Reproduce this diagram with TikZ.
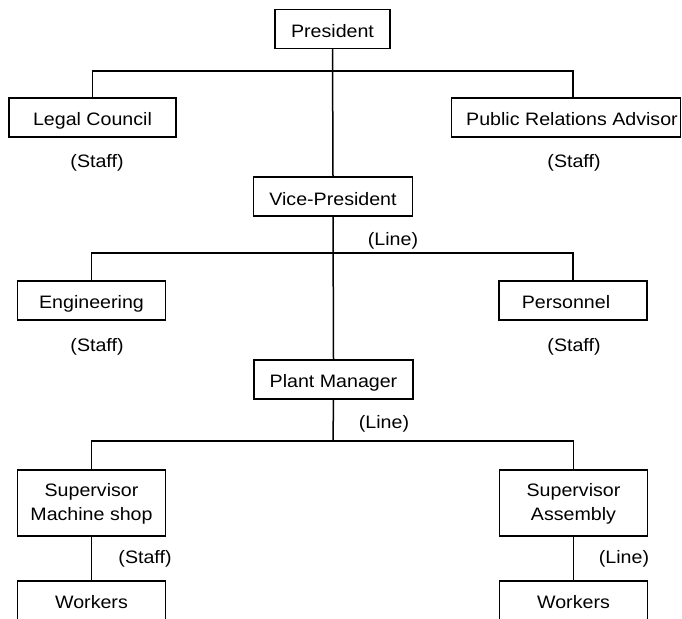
\documentclass[tikz,border=0pt]{standalone}
\usepackage{fontspec}
\setmainfont{Liberation Sans}[FakeStretch=1.09]
\begin{document}
\begin{tikzpicture}[x=1pt,y=-1pt,
  box/.style={draw, line width=1.5pt, inner sep=0pt, minimum height=39pt,
    font=\fontsize{18}{23.3}\selectfont, text height=17pt, text depth=0.4pt},
  frame/.style={draw, line width=1.5pt, inner sep=0pt, minimum width=148pt},
  lbl/.style={inner sep=0pt, font=\fontsize{18}{23.3}\selectfont},
  conn/.style={line width=1.5pt}]
\useasboundingbox (0,0) rectangle (682,618);
\clip (0,0) rectangle (682,618);
% nodes
\node[box, minimum width=115pt] (pres) at (332.5,29) {President};
\node[box, minimum width=167pt] (legal) at (92.5,117.5) {Legal Council};
\node[box, minimum width=229pt] (pra) at (566,117.5) {\hspace*{12pt}Public Relations Advisor};
\node[lbl] (s1) at (97,163) {(Staff)};
\node[lbl] (s2) at (574,163) {(Staff)};
\node[box, minimum width=159pt] (vp) at (333,196.7) {Vice-President};
\node[lbl] (l1) at (393,241) {(Line)};
\node[box, minimum width=148pt] (eng) at (91.5,300.5) {Engineering};
\node[box, minimum width=148pt] (pers) at (573,300.5) {Personnel\hspace*{14pt}};
\node[lbl] (s3) at (97,347) {(Staff)};
\node[lbl] (s4) at (574,347) {(Staff)};
\node[box, minimum width=159pt] (pm) at (333.5,379.5) {Plant Manager};
\node[lbl] (l2) at (384,424) {(Line)};
\node[frame, minimum height=66pt] (sup1) at (91.5,503) {};
\node[lbl, align=center, anchor=north] (sup1t) at (91.5,483.6) {Supervisor\\Machine shop};
\node[frame, minimum height=66pt] (sup2) at (573.5,503) {};
\node[lbl, align=center, anchor=north] (sup2t) at (573.5,483.6) {Supervisor\\Assembly};
\node[lbl] (s5) at (145,559) {(Staff)};
\node[lbl] (l3) at (624,559) {(Line)};
\node[frame, minimum height=44pt] (w1) at (91.5,603) {};
\node[lbl, anchor=base] (w1t) at (91.5,608) {Workers};
\node[frame, minimum height=44pt] (w2) at (573.5,603) {};
\node[lbl, anchor=base] (w2t) at (573.5,608) {Workers};
% bus coordinates
\coordinate (b1) at (333,71);
\coordinate (b2) at (333,253);
\coordinate (b3) at (333,441);
% connectors
\draw[conn] (pres.south) -- (vp.north);
\draw[conn] (legal.north) |- (b1) -| ([xshift=7pt]pra.north);
\draw[conn] (vp.south) -- (pm.north);
\draw[conn] (eng.north) |- (b2) -| (pers.north);
\draw[conn] (pm.south) -- (b3);
\draw[conn] (sup1.north) |- (b3) -| (sup2.north);
\draw[conn] (sup1.south) -- (w1.north);
\draw[conn] (sup2.south) -- (w2.north);
\end{tikzpicture}
\end{document}
